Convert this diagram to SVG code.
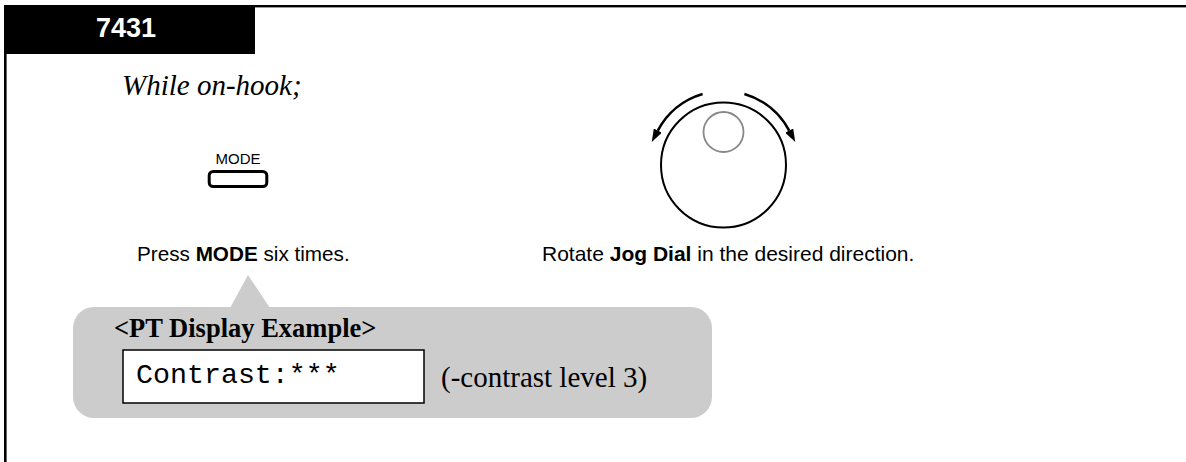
<svg xmlns="http://www.w3.org/2000/svg" width="1186" height="462" viewBox="0 0 1186 462">
<style>
.sans{font-family:"Liberation Sans",Arial,sans-serif;fill:#000}
.serif{font-family:"Liberation Serif","Times New Roman",serif;fill:#000}
.mono{font-family:"Liberation Mono","Courier New",monospace;fill:#000}
.arc{fill:none;stroke:#000;stroke-width:2.6}
</style>
<defs>
<marker id="ah" markerUnits="userSpaceOnUse" markerWidth="13" markerHeight="9" refX="0" refY="4.5" orient="auto">
<path d="M0,0 L13,4.5 L0,9 z" fill="#000"/>
</marker>
</defs>
<rect width="1186" height="462" fill="#fff"/>
<g id="frame">
<rect x="4" y="5" width="1182" height="2.4" fill="#000"/>
<rect x="4" y="5" width="2.6" height="457" fill="#000"/>
</g>
<g id="header">
<rect x="4" y="5" width="251" height="49" fill="#000"/>
<text x="126" y="37" font-size="27" font-weight="bold" text-anchor="middle" class="sans" style="fill:#fff">7431</text>
</g>
<g id="condition">
<text x="122" y="95" font-size="29" font-style="italic" class="serif">While on-hook;</text>
</g>
<g id="mode-button">
<text x="238" y="164" font-size="15" text-anchor="middle" class="sans">MODE</text>
<rect x="209.2" y="171.5" width="57.6" height="15" rx="4" fill="#fff" stroke="#000" stroke-width="3"/>
<text x="137" y="261" font-size="20.7" class="sans">Press <tspan font-weight="bold">MODE</tspan> six times.</text>
</g>
<g id="jog-dial">
<circle cx="723.5" cy="165" r="62.5" fill="none" stroke="#000" stroke-width="2"/>
<circle cx="723.5" cy="132" r="20" fill="none" stroke="#888" stroke-width="1.8"/>
<text x="542" y="261" font-size="21" class="sans">Rotate <tspan font-weight="bold">Jog Dial</tspan> in the desired direction.</text>
</g>
<g id="connectors">
<path class="arc" d="M702.6,94 A74,74 0 0 0 657.8,130.6" marker-end="url(#ah)"/>
<path class="arc" d="M744.4,94 A74,74 0 0 1 789.2,130.6" marker-end="url(#ah)"/>
</g>
<g id="display-callout">
<rect x="73" y="307" width="639" height="111" rx="21" fill="#ccc"/>
<polygon points="230,308 248,275 270,308" fill="#ccc"/>
<text x="114" y="337" font-size="26.5" font-weight="bold" class="serif">&lt;PT Display Example&gt;</text>
<rect x="123" y="350" width="301" height="53" fill="#fff" stroke="#000" stroke-width="1.5"/>
<text x="136" y="383" font-size="28.3" class="mono">Contrast:***</text>
<text x="441" y="387" font-size="29" class="serif">(-contrast level 3)</text>
</g>
</svg>
